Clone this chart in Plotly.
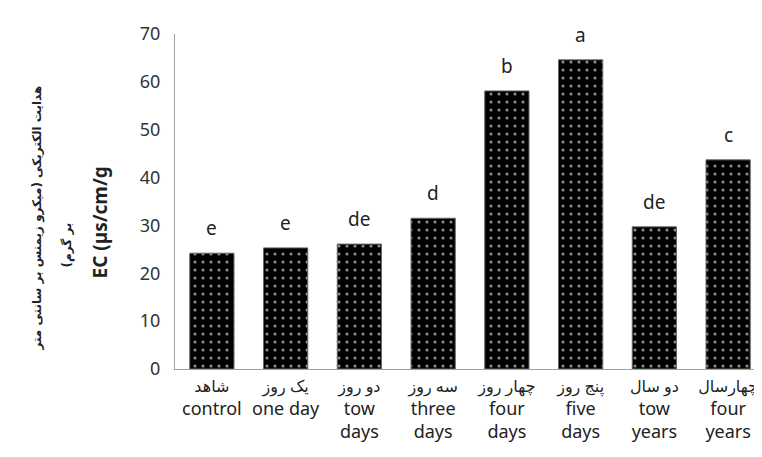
import plotly.graph_objects as go

categories_fa = ["شاهد", "یک روز", "دو روز", "سه روز", "چهار روز", "پنج روز", "دو سال", "چهارسال"]
categories_en = ["control", "one day", "tow<br>days", "three<br>days", "four<br>days", "five<br>days", "tow<br>years", "four<br>years"]
ec_values = [24.2, 25.3, 26.1, 31.5, 58.1, 64.6, 29.7, 43.7]
letters = ["e", "e", "de", "d", "b", "a", "de", "c"]
y_ticks = [0, 10, 20, 30, 40, 50, 60, 70]

FONT = "Noto Sans, DejaVu Sans, sans-serif"
x_labels = [f"<span style='font-size:16px'>{fa}</span><br>{en}" for fa, en in zip(categories_fa, categories_en)]

fig = go.Figure()
fig.add_trace(go.Bar(
    x=x_labels, y=ec_values,
    marker=dict(color="black", line=dict(color="#666", width=1),
                pattern=dict(shape=".", fgcolor="#8a8a8a", bgcolor="black", size=8, solidity=0.12, fillmode="replace")),
    width=0.6,
))

for xl, v, letter in zip(x_labels, ec_values, letters):
    fig.add_annotation(x=xl, y=v, text=letter, showarrow=False, yanchor="bottom", yshift=10,
                       font=dict(size=19, color="#222", family=FONT))

fig.update_layout(
    width=762, height=457,
    margin=dict(l=167, r=5, t=26, b=96),
    paper_bgcolor="white", plot_bgcolor="white",
    showlegend=False,
    font=dict(family=FONT, size=19, color="#222"),
    bargap=0.4,
)
fig.update_yaxes(range=[0, 70], tickvals=y_ticks, showgrid=False, zeroline=False,
                 showline=True, linecolor="#a0a0a0", linewidth=1, ticks="",
                 tickfont=dict(size=18, color="#333", family=FONT), ticklabelstandoff=10)
fig.update_xaxes(showgrid=False, showline=True, linecolor="#a0a0a0", linewidth=1, ticks="",
                 tickfont=dict(size=18, color="#222", family=FONT), tickangle=0)

fig.add_annotation(xref="paper", yref="paper", x=0, y=0.5, xanchor="center", yanchor="middle",
                   xshift=-138, yshift=-17,
                   text="<b>هدایت الکتریکی (میکرو زیمنس بر سانتی متر</b>", textangle=-90, showarrow=False,
                   font=dict(size=12, color="#222", family="DejaVu Sans"))
fig.add_annotation(xref="paper", yref="paper", x=0, y=0.5, xanchor="center", yanchor="middle",
                   xshift=-108, yshift=-44,
                   text="<b>بر گرم)\u200F</b>", textangle=-90, showarrow=False,
                   font=dict(size=12, color="#222", family="DejaVu Sans"))
fig.add_annotation(xref="paper", yref="paper", x=0, y=0.5, xanchor="center", yanchor="middle",
                   xshift=-76, yshift=-21,
                   text="<b>EC (µs/cm/g</b>", textangle=-90, showarrow=False,
                   font=dict(size=19, color="#222", family=FONT))

fig.write_html("out.html")
